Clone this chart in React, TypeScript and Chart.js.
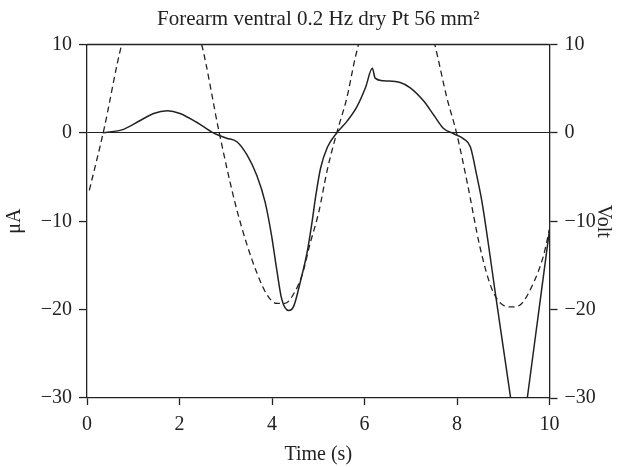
import React, { useEffect, useRef } from "react";
import { Chart, registerables } from "chart.js";
Chart.register(...registerables);

const chartTitle = "Forearm ventral 0.2 Hz dry Pt 56 mm²";
const xTitle = "Time (s)";
const yLeftTitle = "μA";
const yRightTitle = "Volt";
const xTicks = [0, 2, 4, 6, 8, 10];
const yTicks = [-30, -20, -10, 0, 10];

// Current (µA), solid line
const currentTime = [0.34, 0.79, 1.15, 1.44, 1.74, 2.01, 2.37, 2.73, 3.02, 3.24, 3.46, 3.67, 3.85, 3.99, 4.1, 4.21, 4.36, 4.47, 4.61, 4.76, 4.86, 4.95, 5.05, 5.2, 5.4, 5.62, 5.84, 6.02, 6.17, 6.23, 6.41, 6.77, 6.99, 7.28, 7.5, 7.71, 7.93, 8.15, 8.29, 8.43, 8.54, 8.85, 9.16, 9.35, 9.52, 9.76, 10];
const currentUA = [0, 0.4, 1.4, 2.2, 2.5, 2.2, 1.2, 0, -0.6, -1.0, -2.5, -4.8, -7.8, -11.6, -15.4, -18.8, -20.1, -19.6, -16.9, -13.5, -10.3, -7.0, -4.0, -1.6, 0, 1.3, 3.0, 5.1, 7.3, 6.2, 5.9, 5.7, 5.1, 3.6, 2.0, 0.5, -0.1, -0.7, -1.6, -4.9, -7.8, -18.9, -30, -36.8, -30, -20.5, -11];

// Applied voltage (V), dashed line
const voltTime = [0.05, 0.35, 0.75, 1.1, 1.6, 2.1, 2.48, 2.86, 3.2, 3.45, 3.67, 3.89, 4.1, 4.28, 4.47, 4.65, 4.83, 5.01, 5.19, 5.4, 5.62, 5.8, 6.2, 6.7, 7.2, 7.52, 7.78, 7.99, 8.22, 8.5, 8.75, 9.0, 9.2, 9.4, 9.66, 9.87, 10];
const voltV = [-6.5, 0, 10, 15.5, 19.5, 16, 10, 0, -7.9, -12.5, -15.8, -18.3, -19.3, -19.3, -18.2, -16.1, -12.4, -9.0, -4.3, 0, 4.0, 8.5, 16, 19.5, 16, 10, 4.0, 0, -5.6, -13.0, -17.6, -19.5, -19.7, -19.3, -16.9, -13.9, -10.9];

const FONT_FAMILY = "'Liberation Serif', 'Times New Roman', serif";
const INK = "#222";

const fmt = (v: number) => (v < 0 ? "\u2212" + Math.abs(v) : String(v));

const frameTop = {
  id: "frameTop",
  afterDatasetsDraw(chart: any) {
    const { ctx, chartArea } = chart;
    ctx.save();
    ctx.strokeStyle = INK;
    ctx.lineWidth = 1.3;
    ctx.beginPath();
    ctx.moveTo(chartArea.left, chartArea.top);
    ctx.lineTo(chartArea.right, chartArea.top);
    ctx.stroke();
    ctx.restore();
  },
};

export default function App() {
  const ref = useRef<HTMLCanvasElement | null>(null);
  useEffect(() => {
    document.body.style.margin = "0";
    const canvas = ref.current;
    if (!canvas) return;
    const font = { family: FONT_FAMILY, size: 20 };
    const chart = new Chart(canvas, {
      type: "line",
      data: {
        datasets: [
          {
            label: "Current",
            data: currentTime.map((t, i) => ({ x: t, y: currentUA[i] })),
            borderColor: INK,
            borderWidth: 1.5,
            pointRadius: 0,
            cubicInterpolationMode: "monotone",
            yAxisID: "y",
          },
          {
            label: "Voltage",
            data: voltTime.map((t, i) => ({ x: t, y: voltV[i] })),
            borderColor: INK,
            borderWidth: 1.3,
            borderDash: [6, 4],
            pointRadius: 0,
            cubicInterpolationMode: "monotone",
            yAxisID: "y1",
          },
        ],
      },
      options: {
        animation: false,
        responsive: false,
        devicePixelRatio: 1,
        layout: { padding: 0 },
        plugins: {
          legend: { display: false },
          tooltip: { enabled: false },
          title: {
            display: true,
            text: chartTitle,
            color: INK,
            font: { family: FONT_FAMILY, size: 21, weight: "normal", lineHeight: 1.2 },
            fullSize: false,
            padding: { top: 7, bottom: 12.3 },
          },
        },
        scales: {
          x: {
            type: "linear",
            position: "bottom",
            min: 0,
            max: 10,
            afterBuildTicks: (s: any) => {
              s.ticks = xTicks.map((v) => ({ value: v }));
            },
            afterFit: (s: any) => {
              s.height = 69;
            },
            ticks: { font, color: INK, padding: 8, callback: (v: any) => fmt(Number(v)), maxRotation: 0 },
            grid: { drawOnChartArea: false, tickLength: 7, tickColor: INK, tickWidth: 1.3 },
            border: { color: INK, width: 1.3 },
            title: { display: true, text: xTitle, font, color: INK, padding: { top: 0, bottom: 0 } },
          },
          y: {
            type: "linear",
            position: "left",
            min: -30,
            max: 10,
            afterBuildTicks: (s: any) => {
              s.ticks = yTicks.map((v) => ({ value: v }));
            },
            afterFit: (s: any) => {
              s.width = 87;
            },
            ticks: { font, color: INK, padding: 7, callback: (v: any) => fmt(Number(v)) },
            grid: {
              drawOnChartArea: true,
              color: (c: any) => (c.tick && c.tick.value === 0 ? INK : "rgba(0,0,0,0)"),
              lineWidth: 1.1,
              tickLength: 8,
              tickColor: INK,
              tickWidth: 1.3,
            },
            border: { color: INK, width: 1.3 },
            title: { display: true, text: yLeftTitle, font, color: INK, padding: { top: 3, bottom: 0 } },
          },
          y1: {
            type: "linear",
            position: "right",
            min: -30,
            max: 10,
            afterBuildTicks: (s: any) => {
              s.ticks = yTicks.map((v) => ({ value: v }));
            },
            afterFit: (s: any) => {
              s.width = 77.5;
            },
            ticks: { font, color: INK, padding: 7, callback: (v: any) => fmt(Number(v)) },
            grid: { drawOnChartArea: false, tickLength: 8, tickColor: INK, tickWidth: 1.3 },
            border: { color: INK, width: 1.3 },
            title: { display: true, text: yRightTitle, font, color: INK, padding: { top: 12, bottom: 0 } },
          },
        },
      },
      plugins: [frameTop],
    });
    return () => chart.destroy();
  }, []);
  return (
    <div style={{ width: 627, height: 467, background: "#fff" }}>
      <canvas ref={ref} width={627} height={467} />
    </div>
  );
}
